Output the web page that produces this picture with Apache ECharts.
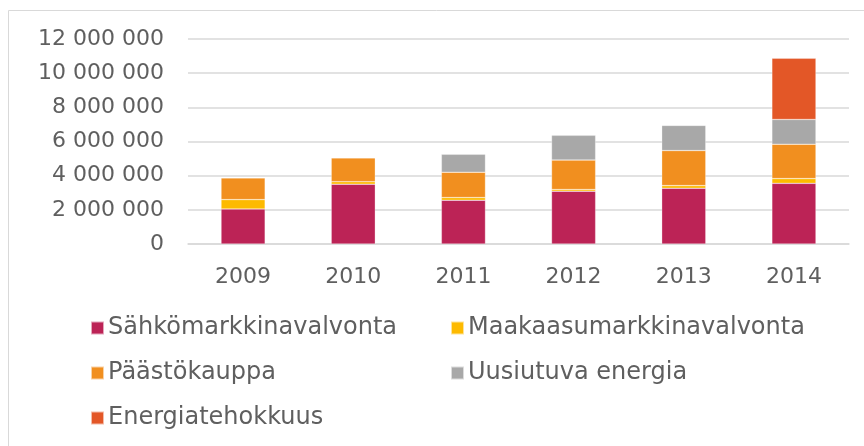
<!DOCTYPE html>
<html>
<head>
<meta charset="utf-8">
<script src="https://cdn.jsdelivr.net/npm/echarts@6/dist/echarts.min.js"></script>
<style>
html,body{margin:0;padding:0;background:#fff;}
#c{width:864px;height:446px;}
</style>
</head>
<body>
<div id="c"></div>
<script>
var categories = ['2009','2010','2011','2012','2013','2014'];
var sahko = [2050000, 3500000, 2560000, 3090000, 3260000, 3550000];
var maakaasu = [550000, 150000, 160000, 100000, 160000, 280000];
var paasto = [1270000, 1390000, 1480000, 1720000, 2050000, 2010000];
var uusiutuva = [null, null, 1050000, 1450000, 1470000, 1450000];
var energia = [null, null, null, null, null, 3580000];
var seriesNames = ['Sähkömarkkinavalvonta','Maakaasumarkkinavalvonta','Päästökauppa','Uusiutuva energia','Energiatehokkuus'];
var yTickValues = [0, 2000000, 4000000, 6000000, 8000000, 10000000, 12000000];
var yTickLabels = ['0','2 000 000','4 000 000','6 000 000','8 000 000','10 000 000','12 000 000'];

var colors = ['#BC2356','#FDBA00','#F18F1F','#A8A8A8','#E35727'];
var dataArr = [sahko, maakaasu, paasto, uusiutuva, energia];
var font = 'DejaVu Sans';
var txt = '#5f5f5f';

var series = seriesNames.map(function(n,i){
  return {
    name: n, type: 'bar', stack: 'total', barWidth: '40%',
    data: dataArr[i],
    itemStyle: {color: colors[i], borderColor: 'rgba(255,255,255,0.6)', borderWidth: 0.5},
    emphasis: {disabled: true}
  };
});

var legendPos = [[90,316],[450,316],[90,361],[450,361],[90,406]];
var legends = seriesNames.map(function(n,i){
  return {
    data: [n], left: legendPos[i][0], top: legendPos[i][1],
    itemWidth: 13, itemHeight: 13, icon: 'rect', itemGap: 0,
    padding: 0, selectedMode: false,
    textStyle: {fontFamily: font, fontSize: 24, color: txt, padding: [0,0,0,-1]}
  };
});

var chart = echarts.init(document.getElementById('c'), null, {renderer: 'canvas'});
chart.setOption({
  animation: false,
  color: colors,
  graphic: [{type: 'rect', shape: {x: 8.5, y: 10.5, width: 1000, height: 1000}, style: {fill: 'none', stroke: '#D9D9D9', lineWidth: 1}, silent: true}],
  grid: {left: 188, right: 15, top: 39, bottom: 202, containLabel: false},
  legend: legends,
  xAxis: {
    type: 'category', data: categories,
    axisLine: {show: true, lineStyle: {color: '#D9D9D9', width: 1.5}},
    axisTick: {show: false},
    axisLabel: {fontFamily: font, fontSize: 22, color: txt, margin: 22}
  },
  yAxis: {
    type: 'value', min: 0, max: 12000000, interval: 2000000,
    axisLine: {show: false}, axisTick: {show: false},
    splitLine: {lineStyle: {color: '#D9D9D9', width: 1.5}},
    axisLabel: {fontFamily: font, fontSize: 22, color: txt, margin: 24,
      formatter: function(v){ var k = yTickValues.indexOf(v); return k >= 0 ? yTickLabels[k] : ''; }}
  },
  series: series
});
</script>
</body>
</html>
